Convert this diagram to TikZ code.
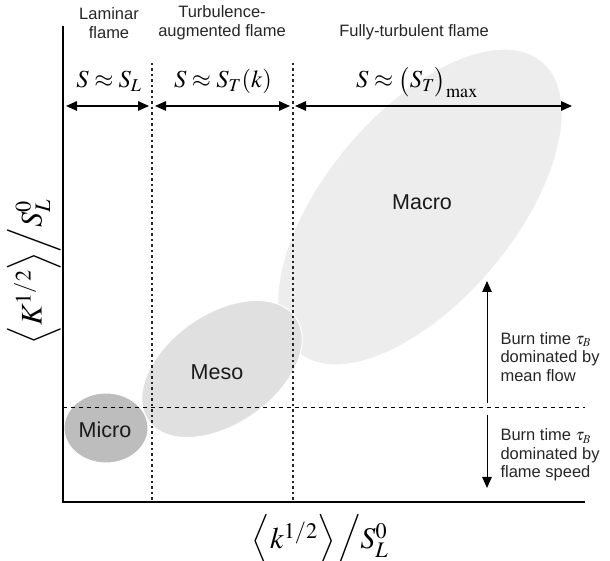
\documentclass[tikz,border=0pt]{standalone}
\usepackage{mathptmx}
\usepackage{fontspec}
\setmainfont{Liberation Sans}
\usetikzlibrary{arrows.meta}

\tikzset{
  lbl/.style={font=\fontsize{16.5}{19}\selectfont, align=center, text=black!85},
  blob/.style={font=\fontsize{21.5}{25}\selectfont, text=black!90},
  burn/.style={font=\fontsize{16.5}{18.7}\selectfont, align=left, anchor=west, text=black!85},
  regime/.style={font=\fontsize{24.5}{29}\selectfont, anchor=base},
  axlabel/.style={font=\fontsize{30}{32}\selectfont, inner sep=0pt},
  divider/.style={dash pattern=on 2.5pt off 3pt, line width=1.1pt, black!85},
}

\begin{document}
\begin{tikzpicture}[x=1pt,y=1pt,>={Triangle[length=11pt,width=9.5pt]}]
			\useasboundingbox (0,0) rectangle (610,561);
			% Regions (ellipses)
			\fill[black!7, draw=white, line width=1pt] (420,354) ellipse [x radius=190, y radius=95, rotate=50];
			\fill[black!12, draw=white, line width=1pt] (222,192) ellipse [x radius=90, y radius=55, rotate=35];
			\fill[black!26, draw=white, line width=1pt] (106,133) ellipse [x radius=42, y radius=35];
			\node[blob] (macro) at (422,359) {Macro};
			\node[blob] (meso) at (217,189) {Meso};
			\node[blob] (micro) at (105,131) {Micro};
			
			% Axes
			\coordinate (o) at (63,59);
			\coordinate (ytop) at (63,535);
			\coordinate (xend) at (585,59);
			\draw[line width=2pt] (ytop) -- (o) -- (xend);
			
			% Dividers
			\coordinate (d1top) at (152,498);
			\coordinate (d1bot) at (152,59);
			\coordinate (d2top) at (293,498);
			\coordinate (d2bot) at (293,59);
			\coordinate (hl) at (63,154);
			\coordinate (hr) at (585,154);
			\draw[divider] (d1top) -- (d1bot);
			\draw[divider] (d2top) -- (d2bot);
			\draw[dash pattern=on 4pt off 4pt, line width=0.8pt] (hl) -- (hr);
			
			% Regime arrows
			\coordinate (a0) at (63,455);
			\coordinate (a1) at (152,455);
			\coordinate (a2) at (293,455);
			\coordinate (a3) at (572,455);
			\draw[<->, line width=1.5pt, shorten <=3pt, shorten >=3pt] (a0) -- (a1);
			\draw[<->, line width=1.5pt, shorten <=3pt, shorten >=3pt] (a1) -- (a2);
			\draw[<->, line width=1.5pt, shorten <=2pt] (a2) -- (a3);
			
			% Labels
			\node[lbl] (lam) at (109,538) {Laminar\\flame};
			\node[lbl] (aug) at (222,538) {Turbulence-\\augmented flame};
			\node[lbl] (full) at (414,529) {Fully-turbulent flame};
			\node[regime] (sl) at (109,473) {$S\approx S_L$};
			\node[regime] (st) at (223,473) {$S\approx S_T(k)$};
			\node[regime] (smax) at (417,473) {$S\approx \bigl(S_T\bigr)_{\max}$};
			
			% Burn time
			\coordinate (upbot) at (487,158);
			\coordinate (uptop) at (487,280);
			\coordinate (dntop) at (487,146);
			\coordinate (dnbot) at (487,73);
			\draw[->, line width=1pt] (upbot) -- (uptop);
			\draw[->, line width=1pt] (dntop) -- (dnbot);
			\node[burn] (mean) at (497,204) {Burn time $\tau_B$\\dominated by\\mean flow};
			\node[burn] (speed) at (497,106) {Burn time $\tau_B$\\dominated by\\flame speed};
			
			% Axis titles
			\node[axlabel, anchor=base] (xlab) at (320,12) {$\Bigl\langle k^{1/2}\Bigr\rangle\Big/S_L^0$};
			\node[axlabel, rotate=90] (ylab) at (34,289) {$\Bigl\langle K^{1/2}\Bigr\rangle\Big/S_L^0$};
		\end{tikzpicture}
\end{document}
